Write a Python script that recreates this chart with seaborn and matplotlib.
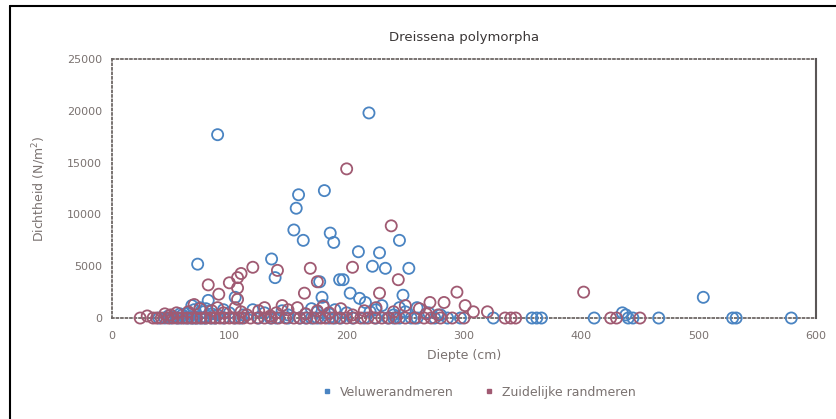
import numpy as np
import pandas as pd
import matplotlib
matplotlib.use("Agg")
import matplotlib.pyplot as plt
import seaborn as sns
from matplotlib.lines import Line2D

TITLE = "Dreissena polymorpha"
XLABEL = "Diepte (cm)"
YLABEL = "Dichtheid (N/m$^2$)"
GROUPS = ["Veluwerandmeren", "Zuidelijke randmeren"]
X_TICKS = [0, 100, 200, 300, 400, 500, 600]
Y_TICKS = [0, 5000, 10000, 15000, 20000, 25000]

# Veluwerandmeren: depth (cm) and density (N/m2)
velu_depth = [
    90, 219, 159, 181, 157, 155, 163, 186, 189, 245, 210, 228, 73, 136, 139,
    222, 233, 253, 197, 177, 194, 203, 179, 180, 216, 211, 248, 105, 82, 504, 438,
    60, 65, 70, 75, 78, 85, 90, 100, 120, 130, 150, 170, 175, 185, 200, 225,
    230, 245, 250, 270, 280, 435,
    48, 52, 58, 68, 80, 95, 112, 145, 165, 190, 220, 240, 260,
    40, 45, 50, 55, 58, 62, 65, 68, 70, 72, 75, 78, 80, 85, 88, 95, 105, 110,
    125, 135, 140, 150, 160, 165, 170, 175, 185, 190, 195, 205, 215, 225, 235,
    240, 245, 255, 260, 275, 286, 297, 325, 358, 362, 366, 411, 440, 444, 466,
    529, 532, 579,
]
velu_density = [
    17700, 19800, 11900, 12300, 10600, 8500, 7500, 8200, 7300, 7500, 6400, 6300,
    5200, 5700, 3900, 5000, 4800, 4800, 3700, 3500, 3700, 2400, 2000, 1200, 1500,
    1900, 2200, 2000, 1700, 2000, 300,
    300, 500, 800, 1000, 600, 400, 300, 500, 800, 500, 300, 900, 600, 400, 500,
    800, 1200, 1000, 600, 500, 300, 500,
    200, 100, 400, 1200, 900, 800, 300, 700, 400, 800, 600, 300, 1000,
    0, 0, 0, 0, 0, 0, 0, 0, 0, 0, 0, 0, 0, 0, 0, 0, 0, 0,
    0, 0, 0, 0, 0, 0, 0, 0, 0, 0, 0, 0, 0, 0, 0,
    0, 0, 0, 0, 0, 0, 0, 0, 0, 0, 0, 0, 0, 0, 0,
    0, 0, 0,
]

# Zuidelijke randmeren: depth (cm) and density (N/m2)
zuid_depth = [
    200, 238, 141, 120, 110, 169, 205, 244, 175, 100, 82, 91, 107, 164, 107,
    228, 294, 271, 283, 301, 402, 107,
    45, 55, 65, 75, 85, 95, 105, 110, 125, 130, 140, 150, 158, 175, 185, 195,
    215, 240, 262, 268, 308, 320,
    30, 50, 70, 90, 115, 135, 145, 165, 180, 205, 225, 250, 278,
    24, 35, 38, 42, 48, 52, 56, 60, 64, 68, 72, 76, 80, 84, 88, 92, 96, 100,
    104, 108, 112, 118, 124, 130, 136, 142, 148, 155, 160, 166, 172, 178, 182,
    188, 194, 200, 206, 212, 218, 224, 230, 236, 242, 250, 258, 266, 272, 280,
    290, 300, 335, 340, 344, 425, 430, 450,
]
zuid_density = [
    14400, 8900, 4600, 4900, 4300, 4800, 4900, 3700, 3500, 3400, 3200, 2300,
    2900, 2400, 1800, 2400, 2500, 1500, 1500, 1200, 2500, 3900,
    400, 500, 600, 900, 700, 500, 1000, 600, 700, 1000, 500, 800, 1000, 700,
    500, 900, 700, 600, 900, 400, 600, 600,
    200, 300, 1300, 1000, 300, 200, 1200, 400, 1100, 300, 1000, 1200, 300,
    0, 0, 0, 0, 0, 0, 0, 0, 0, 0, 0, 0, 0, 0, 0, 0, 0, 0,
    0, 0, 0, 0, 0, 0, 0, 0, 0, 0, 0, 0, 0, 0, 0,
    0, 0, 0, 0, 0, 0, 0, 0, 0, 0, 0, 0, 0, 0, 0,
    0, 0, 0, 0, 0, 0, 0, 0,
]

COLORS = {GROUPS[0]: "#4a84c2", GROUPS[1]: "#a05a72"}
TEXT_GRAY = "#7a7270"

df = pd.concat([
    pd.DataFrame({"depth": velu_depth, "density": velu_density, "group": GROUPS[0]}),
    pd.DataFrame({"depth": zuid_depth, "density": zuid_density, "group": GROUPS[1]}),
], ignore_index=True)

sns.set_style("white")
plt.rcParams["font.family"] = ["DejaVu Sans"]

fig = plt.figure(figsize=(8.36, 4.19), dpi=100)
ax = fig.add_axes([0.134, 0.241, 0.842, 0.618])

sns.scatterplot(
    data=df, x="depth", y="density", hue="group", palette=COLORS,
    marker="o", s=64, linewidth=1.3, ax=ax,
    legend=False, clip_on=False, zorder=3,
)
# open circles: edge in the group colour, no fill
for coll in ax.collections:
    fc = coll.get_facecolors()
    coll.set_edgecolors(fc)
    coll.set_facecolor("none")
    coll.set_linewidth(1.3)

ax.set_xlim(0, 600)
ax.set_ylim(0, 25000)
ax.set_xticks(X_TICKS)
ax.set_yticks(Y_TICKS)
ax.set_xticklabels([str(v) for v in X_TICKS])
ax.set_yticklabels([str(v) for v in Y_TICKS])
ax.tick_params(axis="both", which="both", length=2, width=1.2, color="black",
               labelsize=8, labelcolor=TEXT_GRAY, direction="inout", pad=6)
ax.tick_params(axis="x", pad=8)

for side in ["top", "left", "bottom"]:
    ax.spines[side].set_linestyle((0, (1, 1.5)))
    ax.spines[side].set_color("#6e6866")
    ax.spines[side].set_linewidth(1.3)
ax.spines["right"].set_color("#5a5656")
ax.spines["right"].set_linewidth(1.5)

ax.set_xlabel(XLABEL, fontsize=9, color=TEXT_GRAY, labelpad=6)
ax.set_ylabel(YLABEL, fontsize=9, color=TEXT_GRAY, labelpad=14)
ax.set_title(TITLE, fontsize=9.5, color="#3a3636", pad=13)

handles = [
    Line2D([], [], linestyle="none", marker="s", markersize=3.5,
           markerfacecolor=COLORS[g], markeredgecolor=COLORS[g], label=g)
    for g in GROUPS
]
fig.legend(handles=handles, loc="center", bbox_to_anchor=(0.572, 0.064),
           ncol=2, frameon=False, fontsize=9, labelcolor=TEXT_GRAY,
           handletextpad=0.5, columnspacing=2.4, handlelength=1.0)

# outer frame of the figure panel (left and top edges fall inside the image)
fig.add_artist(Line2D([10 / 836, 10 / 836], [0, 1 - 6 / 419],
                      transform=fig.transFigure, color="black", linewidth=1.5))
fig.add_artist(Line2D([10 / 836, 1], [1 - 6 / 419, 1 - 6 / 419],
                      transform=fig.transFigure, color="black", linewidth=1.5))

fig.savefig("out.png", dpi=100)
